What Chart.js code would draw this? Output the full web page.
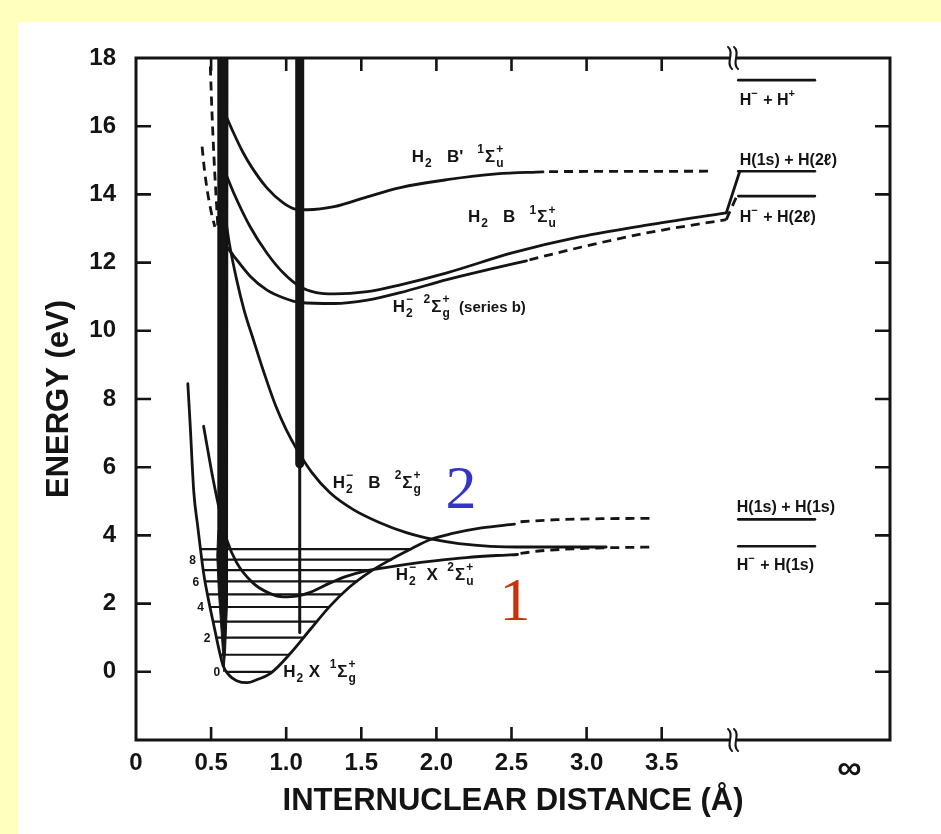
<!DOCTYPE html>
<html>
<head>
<meta charset="utf-8">
<script src="https://cdn.jsdelivr.net/npm/chart.js@4.4.1/dist/chart.umd.min.js"></script>
<style>
  html, body { margin: 0; padding: 0; background: #ffffbe; }
  #wrap { width: 941px; height: 834px; position: relative; }
  canvas { display: block; }
</style>
</head>
<body>
<div id="wrap"><canvas id="pec" width="941" height="834"></canvas></div>
<script>
// ---- axis ticks -------------------------------------------------------
const xTickValues = [0, 0.5, 1.0, 1.5, 2.0, 2.5, 3.0, 3.5, 4.75];
const xTickLabels = ['0', '0.5', '1.0', '1.5', '2.0', '2.5', '3.0', '3.5', '∞'];
const yTickValues = [-2, 0, 2, 4, 6, 8, 10, 12, 14, 16, 18];
const xBreak = 3.975;              // axis break between 3.5 Å and infinity

// ---- potential curves: [R (Å), E (eV)] --------------------------------
const h2XSolid = [[0.345, 8.45], [0.36, 7.3], [0.385, 5.26], [0.41, 4.3], [0.45, 2.9], [0.49, 1.95],
  [0.52, 1.33], [0.55, 0.7], [0.58, 0.18], [0.62, -0.1], [0.67, -0.26], [0.74, -0.32], [0.8, -0.24],
  [0.9, -0.03], [1.03, 0.55], [1.16, 1.24], [1.29, 1.92], [1.42, 2.48], [1.56, 2.94], [1.7, 3.3],
  [1.83, 3.6], [1.96, 3.88], [2.1, 4.05], [2.3, 4.22], [2.52, 4.33]];
const h2XDashed = [[2.56, 4.4], [2.8, 4.46], [3.1, 4.49], [3.45, 4.5]];

const h2mXSolid = [[0.45, 7.2], [0.48, 6.45], [0.51, 5.72], [0.56, 4.66], [0.605, 3.87], [0.67, 3.2],
  [0.78, 2.6], [0.89, 2.3], [0.98, 2.2], [1.07, 2.22], [1.16, 2.33], [1.29, 2.6], [1.4, 2.8],
  [1.51, 2.94], [1.65, 3.05], [1.8, 3.15], [2.0, 3.26], [2.2, 3.35], [2.4, 3.41], [2.54, 3.44]];
const h2mXDashed = [[2.56, 3.47], [2.7, 3.55], [3.0, 3.62], [3.45, 3.66]];

const h2mB = [[0.58, 13.8], [0.62, 12.6], [0.67, 11.5], [0.72, 10.6], [0.78, 9.76], [0.85, 8.8],
  [0.93, 7.8], [1.0, 7.1], [1.07, 6.53], [1.17, 5.85], [1.29, 5.26], [1.45, 4.75], [1.62, 4.38],
  [1.8, 4.08], [1.98, 3.88], [2.15, 3.76], [2.36, 3.68], [2.6, 3.66], [3.13, 3.66]];

const h2BpSolid = [[0.59, 16.4], [0.65, 15.8], [0.71, 15.25], [0.77, 14.8], [0.87, 14.2], [0.98, 13.75],
  [1.06, 13.57], [1.14, 13.55], [1.32, 13.64], [1.54, 13.93], [1.76, 14.2], [2.07, 14.43],
  [2.4, 14.6], [2.71, 14.66]];
const h2BpDashed = [[2.75, 14.67], [3.84, 14.68]];

const h2BSolid = [[0.58, 14.8], [0.65, 14.05], [0.76, 13.05], [0.87, 12.29], [0.98, 11.7], [1.09, 11.3],
  [1.2, 11.12], [1.32, 11.08], [1.54, 11.15], [1.76, 11.35], [2.07, 11.7], [2.51, 12.29],
  [2.96, 12.76], [3.4, 13.1], [3.93, 13.46]];
const h2BToLimit = [[3.93, 13.46], [4.02, 14.68]];

const seriesBSolid = [[0.58, 12.6], [0.65, 12.2], [0.76, 11.6], [0.87, 11.2], [0.98, 10.97],
  [1.09, 10.83], [1.32, 10.8], [1.54, 10.9], [1.76, 11.12], [2.07, 11.5], [2.35, 11.8], [2.6, 12.05]];
const seriesBDashed = [[2.62, 12.08], [2.96, 12.45], [3.4, 12.87], [3.93, 13.26]];
const seriesBToLimit = [[3.93, 13.26], [4.0, 13.95]];

// repulsive branches at short range
const innerDashA = [[0.495, 17.75], [0.505, 16.5], [0.52, 15.0], [0.545, 13.05]];
const innerDashB = [[0.44, 15.4], [0.455, 14.75], [0.475, 14.1], [0.5, 13.5], [0.525, 13.05]];

// Franck-Condon bands
const bandA = [[0.545, 18], [0.612, 18], [0.612, 4.0], [0.606, 2.0], [0.596, 0.6], [0.585, 0.0],
  [0.576, 0.6], [0.548, 2.4], [0.538, 3.4], [0.545, 4.2], [0.545, 18]];
const bandBThick = [[1.09, 18], [1.09, 6.1]];
const bandBThin = [[1.09, 6.1], [1.09, 1.15]];

// ---- vibrational levels of H2 X ---------------------------------------
const vibEnergy = [0.0, 0.5, 1.0, 1.47, 1.9, 2.27, 2.65, 2.98, 3.29, 3.6];
const vibLeft   = [0.6, 0.561, 0.536, 0.513, 0.492, 0.475, 0.46, 0.448, 0.439, 0.43];
const vibRight  = [0.91, 1.02, 1.11, 1.2, 1.285, 1.37, 1.47, 1.57, 1.7, 1.83];
const vibLabels = ['0', '', '2', '', '4', '', '6', '', '8', ''];

// ---- dissociation limits ----------------------------------------------
const limitEnergy = [17.35, 14.68, 13.95, 4.47, 3.68];
const limitStart = 4.01;
const limitEnd = 4.52;

// ---- styling ----------------------------------------------------------
const INK = '#141414';
const SANS = "'Liberation Sans', Arial, sans-serif";
const SERIF = "'Liberation Serif', 'Times New Roman', serif";
const DASH = [9, 6];

const pts = arr => arr.map(([x, y]) => ({ x, y }));
function curve(arr, extra) {
  return Object.assign({
    data: pts(arr), showLine: true, pointRadius: 0, borderColor: INK, borderWidth: 2.8,
    cubicInterpolationMode: 'monotone', fill: false, borderCapStyle: 'round', borderJoinStyle: 'round'
  }, extra || {});
}
const dashed = { borderDash: DASH, borderCapStyle: 'butt' };
const straight = { cubicInterpolationMode: 'default', tension: 0 };

const datasets = [
  curve(bandA, Object.assign({ fill: 'shape', backgroundColor: INK, borderWidth: 1 }, straight)),
  curve(bandBThick, Object.assign({ borderWidth: 9, borderCapStyle: 'butt' }, straight)),
  curve(bandBThin, Object.assign({ borderWidth: 3, borderCapStyle: 'butt' }, straight)),
  curve(h2XSolid), curve(h2XDashed, dashed),
  curve(h2mXSolid), curve(h2mXDashed, dashed),
  curve(h2mB),
  curve(h2BpSolid), curve(h2BpDashed, dashed),
  curve(h2BSolid), curve(h2BToLimit, straight),
  curve(seriesBSolid), curve(seriesBDashed, dashed), curve(seriesBToLimit, Object.assign({}, dashed, straight)),
  curve(innerDashA, Object.assign({ borderWidth: 2.8 }, dashed)),
  curve(innerDashB, Object.assign({ borderWidth: 2.8 }, dashed))
];
vibEnergy.forEach((e, i) => {
  datasets.push(curve([[vibLeft[i], e], [vibRight[i], e]], Object.assign({ borderWidth: 2.2 }, straight)));
});
limitEnergy.forEach(e => {
  datasets.push(curve([[limitStart, e], [limitEnd, e]], Object.assign({ borderWidth: 2.6 }, straight)));
});

// ---- state labels (anchor in data units) ------------------------------
const H2 = [{ t: 'H' }, { sub: '2' }];
const H2m = [{ t: 'H' }, { ss: ['−', '2'] }];
const stateLabels = [
  { x: 1.836, y: 14.96, parts: [...H2, { t: '   B\'   ' }, { sup: '1' }, { t: 'Σ' }, { ss: ['+', 'u'] }] },
  { x: 2.21, y: 13.19, parts: [...H2, { t: '   B   ' }, { sup: '1' }, { t: 'Σ' }, { ss: ['+', 'u'] }] },
  { x: 1.71, y: 10.56, parts: [...H2m, { t: '  ' }, { sup: '2' }, { t: 'Σ' }, { ss: ['+', 'g'] }, { t: '  (series b)', size: 15 }] },
  { x: 1.31, y: 5.4, parts: [...H2m, { t: '   B   ' }, { sup: '2' }, { t: 'Σ' }, { ss: ['+', 'g'] }] },
  { x: 1.73, y: 2.7, parts: [...H2m, { t: '  X  ' }, { sup: '2' }, { t: 'Σ' }, { ss: ['+', 'u'] }] },
  { x: 0.98, y: -0.15, parts: [...H2, { t: ' X  ' }, { sup: '1' }, { t: 'Σ' }, { ss: ['+', 'g'] }] },
  { x: 4.02, y: 16.63, size: 16, parts: [{ t: 'H' }, { sup: '−' }, { t: ' + H' }, { sup: '+' }] },
  { x: 4.02, y: 14.87, size: 16, parts: [{ t: 'H(1s) + H(2ℓ)' }] },
  { x: 4.02, y: 13.2, size: 16, parts: [{ t: 'H' }, { sup: '−' }, { t: ' + H(2ℓ)' }] },
  { x: 4.0, y: 4.69, size: 16, parts: [{ t: 'H(1s) + H(1s)' }] },
  { x: 4.0, y: 2.99, size: 16, parts: [{ t: 'H' }, { sup: '−' }, { t: ' + H(1s)' }] }
];
const markerLabels = [
  { x: 2.06, y: 4.81, text: '2', color: '#3434c8' },
  { x: 2.42, y: 1.52, text: '1', color: '#c8320a' }
];

function drawRich(ctx, x, y, parts, size) {
  const small = Math.round(size * 0.7);
  let cx = x;
  ctx.textBaseline = 'alphabetic';
  ctx.textAlign = 'left';
  for (const p of parts) {
    if (p.ss) {
      ctx.font = `bold ${small}px ${SANS}`;
      const w = Math.max(ctx.measureText(p.ss[0]).width, ctx.measureText(p.ss[1]).width);
      ctx.fillText(p.ss[0], cx + 1, y - size * 0.5);
      ctx.fillText(p.ss[1], cx + 1, y + size * 0.32);
      cx += w + 2;
    } else if (p.sup !== undefined) {
      ctx.font = `bold ${small}px ${SANS}`;
      ctx.fillText(p.sup, cx, y - size * 0.5);
      cx += ctx.measureText(p.sup).width + 1;
    } else if (p.sub !== undefined) {
      ctx.font = `bold ${small}px ${SANS}`;
      ctx.fillText(p.sub, cx + 1, y + size * 0.32);
      cx += ctx.measureText(p.sub).width + 2;
    } else {
      ctx.font = `bold ${p.size || size}px ${SANS}`;
      ctx.fillText(p.t, cx, y);
      cx += ctx.measureText(p.t).width;
    }
  }
}

const pagePlugin = {
  id: 'page',
  beforeDraw(chart) {
    const { ctx, width, height } = chart;
    ctx.save();
    ctx.fillStyle = '#ffffbe';
    ctx.fillRect(0, 0, width, height);
    ctx.fillStyle = '#ffffff';
    ctx.fillRect(18, 22, width - 18, height - 22);
    ctx.restore();
  },
  afterDatasetsDraw(chart) {
    const { ctx, chartArea: a, scales: { x: xs, y: ys } } = chart;
    ctx.save();
    ctx.strokeStyle = INK;
    ctx.fillStyle = INK;
    ctx.lineWidth = 3;
    ctx.lineCap = 'square';
    const bx = xs.getPixelForValue(xBreak);
    const gap = 5;
    // frame with a break on the top and bottom axes
    ctx.beginPath();
    ctx.moveTo(bx - gap, a.top); ctx.lineTo(a.left, a.top); ctx.lineTo(a.left, a.bottom); ctx.lineTo(bx - gap, a.bottom);
    ctx.moveTo(bx + gap, a.top); ctx.lineTo(a.right, a.top); ctx.lineTo(a.right, a.bottom); ctx.lineTo(bx + gap, a.bottom);
    ctx.stroke();
    // break marks
    ctx.lineWidth = 2;
    ctx.lineCap = 'round';
    [a.top, a.bottom].forEach(yy => {
      [-3, 3].forEach(dx => {
        const cx = bx + dx;
        ctx.beginPath();
        ctx.moveTo(cx - 2, yy - 11);
        ctx.bezierCurveTo(cx + 5, yy - 5, cx - 5, yy + 5, cx + 2, yy + 11);
        ctx.stroke();
      });
    });
    // inward tick marks
    ctx.lineWidth = 2.6;
    ctx.lineCap = 'butt';
    ctx.beginPath();
    yTickValues.forEach(v => {
      if (v <= ys.min || v >= ys.max) return;
      const py = ys.getPixelForValue(v);
      ctx.moveTo(a.left, py); ctx.lineTo(a.left + 15, py);
      ctx.moveTo(a.right - 15, py); ctx.lineTo(a.right, py);
    });
    xTickValues.forEach(v => {
      if (v <= xs.min || v >= xBreak) return;
      const px = xs.getPixelForValue(v);
      ctx.moveTo(px, a.bottom); ctx.lineTo(px, a.bottom - 13);
      ctx.moveTo(px, a.top); ctx.lineTo(px, a.top + 13);
    });
    ctx.stroke();

    // vibrational quantum numbers
    ctx.font = `bold 12px ${SANS}`;
    ctx.textAlign = 'right';
    ctx.textBaseline = 'middle';
    vibLabels.forEach((lab, i) => {
      if (!lab) return;
      ctx.fillText(lab, xs.getPixelForValue(vibLeft[i]) - 6, ys.getPixelForValue(vibEnergy[i]) + 1);
    });

    // state names
    stateLabels.forEach(l => {
      drawRich(ctx, xs.getPixelForValue(l.x), ys.getPixelForValue(l.y), l.parts, l.size || 17);
    });

    // large markers
    ctx.textAlign = 'left';
    ctx.textBaseline = 'alphabetic';
    ctx.font = `62px ${SERIF}`;
    markerLabels.forEach(m => {
      ctx.fillStyle = m.color;
      ctx.fillText(m.text, xs.getPixelForValue(m.x), ys.getPixelForValue(m.y));
    });
    ctx.restore();
  }
};

new Chart(document.getElementById('pec'), {
  type: 'scatter',
  data: { datasets },
  plugins: [pagePlugin],
  options: {
    responsive: false,
    devicePixelRatio: 1,
    animation: false,
    events: [],
    layout: { padding: { top: 58, right: 51, left: 0, bottom: 0 } },
    plugins: { legend: { display: false }, tooltip: { enabled: false } },
    scales: {
      x: {
        type: 'linear', min: 0, max: 5.02,
        grid: { display: false }, border: { display: false },
        afterBuildTicks: s => { s.ticks = xTickValues.map(v => ({ value: v })); },
        afterFit: s => { s.height = 94; },
        ticks: {
          autoSkip: false, maxRotation: 0, padding: 1, color: INK,
          font: c => ({ family: SANS, weight: 'bold', size: (c.tick && c.tick.value > xBreak) ? 34 : 24 }),
          callback: v => { const i = xTickValues.indexOf(v); return i >= 0 ? xTickLabels[i] : null; }
        },
        title: {
          display: true, text: 'INTERNUCLEAR DISTANCE (Å)', color: INK,
          font: { family: SANS, size: 31, weight: 'bold' }, padding: { top: 0, bottom: 14 }
        }
      },
      y: {
        type: 'linear', min: -2, max: 18,
        grid: { display: false }, border: { display: false },
        afterBuildTicks: s => { s.ticks = yTickValues.map(v => ({ value: v })); },
        afterFit: s => { s.width = 136; },
        ticks: {
          padding: 12, color: INK,
          font: { family: SANS, size: 24, weight: 'bold' },
          callback: v => (v < 0 ? null : String(v))
        },
        title: {
          display: true, text: 'ENERGY (eV)', color: INK,
          font: { family: SANS, size: 31, weight: 'bold' }, padding: { top: 41, bottom: 0 }
        }
      }
    }
  }
});
</script>
</body>
</html>
